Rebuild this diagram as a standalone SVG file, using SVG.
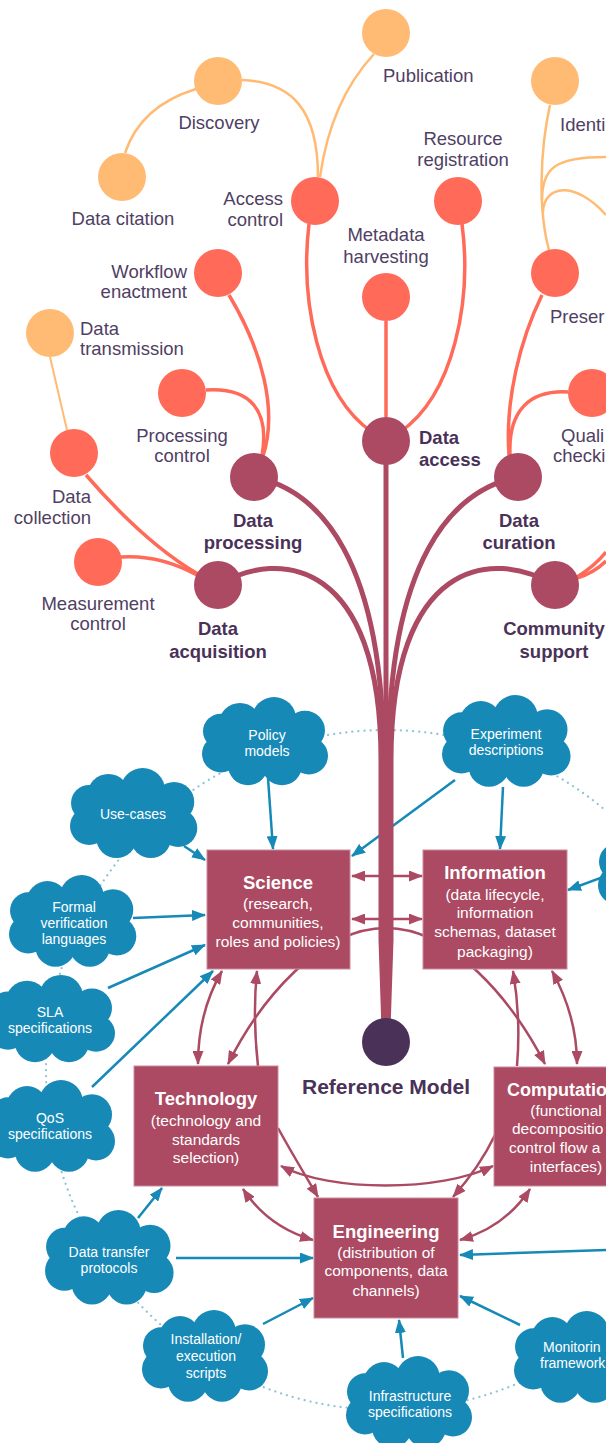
<svg xmlns="http://www.w3.org/2000/svg" xmlns:xlink="http://www.w3.org/1999/xlink" width="606" height="1443" viewBox="0 0 606 1443">
<style>
  text{font-family:"Liberation Sans",Arial,sans-serif}
  .lb{font-size:18.5px;fill:#4f4064}
  .bl{font-size:18.5px;font-weight:bold;fill:#4a3158}
  .bt{font-size:18.5px;font-weight:bold;fill:#fff}
  .bs{font-size:15.5px;fill:#fff}
  .ct{font-size:14px;fill:#fff}
  .or{fill:#ffbb73}
  .co{fill:#ff6a59}
  .ma{fill:#ab4a62}
  .box{fill:#ab4a62;stroke:#c98b9b;stroke-width:1}
  .cl{fill:#1689b7}
  .lo{fill:none;stroke:#ffbb73;stroke-width:2.5}
  .lc{fill:none;stroke:#ff6a59;stroke-width:3.5}
  .lm{fill:none;stroke:#ab4a62;stroke-width:5}
  .am{fill:none;stroke:#ab4a62;stroke-width:2.5;marker-end:url(#hm)}
  .ad{fill:none;stroke:#ab4a62;stroke-width:2.5;marker-end:url(#hm);marker-start:url(#hm)}
  .ab{fill:none;stroke:#1689b7;stroke-width:2.5;marker-end:url(#hb)}
</style>
<defs>
  <marker id="hm" viewBox="0 0 14 11" refX="13" refY="5.5" markerWidth="14" markerHeight="11" markerUnits="userSpaceOnUse" orient="auto-start-reverse">
    <path d="M0,0 L14,5.5 L0,11 z" fill="#ab4a62"/>
  </marker>
  <marker id="hb" viewBox="0 0 14 11" refX="13" refY="5.5" markerWidth="14" markerHeight="11" markerUnits="userSpaceOnUse" orient="auto">
    <path d="M0,0 L14,5.5 L0,11 z" fill="#1689b7"/>
  </marker>
  <g id="cloud">
    <ellipse cx="65" cy="46" rx="48" ry="30"/>
    <circle cx="40" cy="27" r="21"/>
    <circle cx="74" cy="22" r="22"/>
    <circle cx="105" cy="34" r="20"/>
    <circle cx="109" cy="60" r="19"/>
    <circle cx="82" cy="70" r="20"/>
    <circle cx="48" cy="70" r="20"/>
    <circle cx="21" cy="58" r="19"/>
    <circle cx="21" cy="35" r="18"/>
  </g>
</defs>

<g id="ring">
  <circle cx="386" cy="1070" r="340" fill="none" stroke="#8ec3d8" stroke-width="2.2" stroke-linecap="round" stroke-dasharray="0.1 6"/>
</g>

<g id="connectors">
  <path class="ad" d="M352,876 L422,876"/>
  <path class="ad" d="M352,919 L422,919"/>
  <path class="ad" d="M228,1064 C260,1000 320,928 386,928 C452,928 512,1000 545,1064"/>
  <path class="am" d="M258,1066 C254,1030 254,1000 257,971"/>
  <path class="ad" d="M222,971 C205,1000 198,1030 198,1064"/>
  <path class="am" d="M517,1066 C520,1030 518,1000 513,971"/>
  <path class="ad" d="M552,971 C568,1000 577,1030 577,1064"/>
  <path class="ad" d="M281,1166 C330,1192 440,1192 493,1166"/>
  <path class="am" d="M278,1128 C290,1150 305,1175 318,1197"/>
  <path class="am" d="M495,1135 C483,1160 468,1180 453,1197"/>
  <path class="ad" d="M243,1189 C260,1215 285,1232 313,1240"/>
  <path class="ad" d="M530,1189 C513,1215 488,1232 460,1240"/>
  <path class="ab" d="M268,778 L273,849"/>
  <path class="ab" d="M184,846 L205,860"/>
  <path class="ab" d="M133,918 L205,915"/>
  <path class="ab" d="M108,988 L205,945"/>
  <path class="ab" d="M92,1087 L213,971"/>
  <path class="ab" d="M455,780 L352,856"/>
  <path class="ab" d="M503,787 L500,849"/>
  <path class="ab" d="M606,876 L568,890"/>
  <path class="ab" d="M138,1218 L162,1188"/>
  <path class="ab" d="M176,1258 L313,1258"/>
  <path class="ab" d="M263,1324 L313,1298"/>
  <path class="ab" d="M403,1358 L399,1320"/>
  <path class="ab" d="M520,1325 L460,1296"/>
  <path class="ab" d="M606,1250 L460,1255"/>
  <path class="lm" d="M386,441 L386,940 L386,1030"/>
  <path class="lm" d="M254,477 C320,490 383.5,560 383.5,760 L383.5,940 L385,1030"/>
  <path class="lm" d="M218,585 C280,548 381,560 381,760 L381,940 L384,1030"/>
  <path class="lm" d="M518,477 C452,490 388.5,560 388.5,760 L388.5,940 L387,1030"/>
  <path class="lm" d="M554,585 C492,548 391,560 391,760 L391,940 L388,1030"/>
  <path class="lc" d="M309,224 C300,300 318,395 372,432"/>
  <path class="lc" d="M462,224 C472,300 454,395 400,432"/>
  <path class="lc" d="M386,321 L386,417"/>
  <path class="lc" d="M229,295 C262,350 278,410 263,456"/>
  <path class="lc" d="M206,390 C250,387 270,410 262,456"/>
  <path class="lc" d="M86,475 C125,520 165,555 198,574"/>
  <path class="lc" d="M121,557 C150,555 175,563 197,575"/>
  <path class="lc" d="M542,295 C520,340 505,400 509,455"/>
  <path class="lc" d="M568,392 C530,390 508,410 510,455"/>
  <path class="lc" d="M577,577 C588,570 598,562 606,552"/>
  <path class="lc" d="M577,578 C590,574 599,568 606,561"/>
  <path class="lo" d="M318,177 C318,110 292,82 242,80"/>
  <path class="lo" d="M320,177 C328,120 348,82 374,54"/>
  <path class="lo" d="M196,89 C160,100 136,120 125,153"/>
  <path class="lo" d="M50,357 L67,430" style="stroke-width:2"/>
  <path class="lo" d="M549,250 C538,210 540,150 550,105"/>
  <path class="lo" d="M542,200 C542,168 555,157 606,157"/>
  <path class="lo" d="M543,212 C544,185 575,180 606,215"/>
</g>

<g id="publication"><circle class="or" cx="386" cy="33" r="24"/><text class="lb" x="383" y="82">Publication</text></g>
<g id="discovery"><circle class="or" cx="218" cy="81" r="24"/><text class="lb" x="219" y="129" text-anchor="middle">Discovery</text></g>
<g id="data-citation"><circle class="or" cx="122" cy="177" r="24"/><text class="lb" x="123" y="225" text-anchor="middle">Data citation</text></g>
<g id="identification"><circle class="or" cx="555" cy="81" r="24"/><text class="lb" x="560" y="131">Identi</text></g>
<g id="data-transmission"><circle class="or" cx="50" cy="333" r="24"/><text class="lb" x="80" y="335">Data</text><text class="lb" x="80" y="355">transmission</text></g>

<g id="access-control"><circle class="co" cx="315" cy="201" r="24"/><text class="lb" x="283" y="205" text-anchor="end">Access</text><text class="lb" x="283" y="226" text-anchor="end">control</text></g>
<g id="resource-registration"><circle class="co" cx="458" cy="201" r="24"/><text class="lb" x="463" y="145" text-anchor="middle">Resource</text><text class="lb" x="463" y="166" text-anchor="middle">registration</text></g>
<g id="metadata-harvesting"><circle class="co" cx="386" cy="297" r="24"/><text class="lb" x="386" y="241" text-anchor="middle">Metadata</text><text class="lb" x="386" y="263" text-anchor="middle">harvesting</text></g>
<g id="workflow-enactment"><circle class="co" cx="218" cy="273" r="24"/><text class="lb" x="187" y="278" text-anchor="end">Workflow</text><text class="lb" x="187" y="298" text-anchor="end">enactment</text></g>
<g id="preservation"><circle class="co" cx="555" cy="273" r="24"/><text class="lb" x="550" y="323">Preser</text></g>
<g id="processing-control"><circle class="co" cx="182" cy="393" r="24"/><text class="lb" x="182" y="442" text-anchor="middle">Processing</text><text class="lb" x="182" y="462" text-anchor="middle">control</text></g>
<g id="quality-checking"><circle class="co" cx="592" cy="393" r="24"/><text class="lb" x="561" y="442">Quali</text><text class="lb" x="553" y="462">checki</text></g>
<g id="data-collection"><circle class="co" cx="74" cy="453" r="24"/><text class="lb" x="91" y="503" text-anchor="end">Data</text><text class="lb" x="91" y="524" text-anchor="end">collection</text></g>
<g id="measurement-control"><circle class="co" cx="98" cy="562" r="24"/><text class="lb" x="98" y="610" text-anchor="middle">Measurement</text><text class="lb" x="98" y="630" text-anchor="middle">control</text></g>

<g id="data-access"><circle class="ma" cx="386" cy="441" r="24"/><text class="bl" x="419" y="444">Data</text><text class="bl" x="419" y="466">access</text></g>
<g id="data-processing"><circle class="ma" cx="254" cy="477" r="24"/><text class="bl" x="253" y="527" text-anchor="middle">Data</text><text class="bl" x="253" y="549" text-anchor="middle">processing</text></g>
<g id="data-curation"><circle class="ma" cx="518" cy="477" r="24"/><text class="bl" x="519" y="527" text-anchor="middle">Data</text><text class="bl" x="519" y="549" text-anchor="middle">curation</text></g>
<g id="data-acquisition"><circle class="ma" cx="218" cy="585" r="24"/><text class="bl" x="218" y="635" text-anchor="middle">Data</text><text class="bl" x="218" y="658" text-anchor="middle">acquisition</text></g>
<g id="community-support"><circle class="ma" cx="555" cy="585" r="24"/><text class="bl" x="554" y="635" text-anchor="middle">Community</text><text class="bl" x="554" y="658" text-anchor="middle">support</text></g>

<g id="reference-model"><circle cx="386" cy="1042" r="24" fill="#4a3158"/><text x="386" y="1094" text-anchor="middle" style="font-size:21px;font-weight:bold;fill:#4a3158">Reference Model</text></g>

<g id="science"><rect class="box" x="207" y="850" width="143" height="119"/>
  <text class="bt" x="278" y="889" text-anchor="middle">Science</text>
  <text class="bs" x="278" y="908.5" text-anchor="middle">(research,</text>
  <text class="bs" x="278" y="927.5" text-anchor="middle">communities,</text>
  <text class="bs" x="278" y="946.5" text-anchor="middle">roles and policies)</text></g>
<g id="information"><rect class="box" x="423" y="850" width="144" height="119"/>
  <text class="bt" x="495" y="879" text-anchor="middle">Information</text>
  <text class="bs" x="495" y="899.5" text-anchor="middle">(data lifecycle,</text>
  <text class="bs" x="495" y="918" text-anchor="middle">information</text>
  <text class="bs" x="495" y="937" text-anchor="middle">schemas, dataset</text>
  <text class="bs" x="495" y="956.5" text-anchor="middle">packaging)</text></g>
<g id="technology"><rect class="box" x="134" y="1066" width="144" height="120"/>
  <text class="bt" x="206" y="1105" text-anchor="middle">Technology</text>
  <text class="bs" x="206" y="1125.5" text-anchor="middle">(technology and</text>
  <text class="bs" x="206" y="1144.5" text-anchor="middle">standards</text>
  <text class="bs" x="206" y="1163" text-anchor="middle">selection)</text></g>
<g id="computation"><rect class="box" x="494" y="1067" width="144" height="119"/>
  <text class="bt" x="507" y="1096" style="font-size:18px">Computatio</text>
  <text class="bs" x="566" y="1115.5" text-anchor="middle">(functional</text>
  <text class="bs" x="512" y="1134">decompositio</text>
  <text class="bs" x="509" y="1153">control flow a</text>
  <text class="bs" x="566" y="1172" text-anchor="middle">interfaces)</text></g>
<g id="engineering"><rect class="box" x="314" y="1198" width="144" height="120"/>
  <text class="bt" x="386" y="1238" text-anchor="middle">Engineering</text>
  <text class="bs" x="386" y="1257.5" text-anchor="middle">(distribution of</text>
  <text class="bs" x="386" y="1276" text-anchor="middle">components, data</text>
  <text class="bs" x="386" y="1295.5" text-anchor="middle">channels)</text></g>

<g id="policy-models"><use href="#cloud" class="cl" transform="translate(200,697) scale(1,0.98)"/><text class="ct" x="267" y="740" text-anchor="middle">Policy</text><text class="ct" x="267" y="756" text-anchor="middle">models</text></g>
<g id="experiment-descriptions"><use href="#cloud" class="cl" transform="translate(440,695) scale(1.02,1.02)"/><text class="ct" x="506" y="739" text-anchor="middle">Experiment</text><text class="ct" x="506" y="755" text-anchor="middle">descriptions</text></g>
<g id="use-cases"><use href="#cloud" class="cl" transform="translate(68,768) scale(1.01,1)"/><text class="ct" x="133" y="819" text-anchor="middle">Use-cases</text></g>
<g id="formal-verification"><use href="#cloud" class="cl" transform="translate(7,875) scale(1.01,1.02)"/><text class="ct" x="74" y="912" text-anchor="middle">Formal</text><text class="ct" x="74" y="928" text-anchor="middle">verification</text><text class="ct" x="74" y="944" text-anchor="middle">languages</text></g>
<g id="sla-specifications"><use href="#cloud" class="cl" transform="translate(-13,975) scale(1,0.97)"/><text class="ct" x="50" y="1017" text-anchor="middle">SLA</text><text class="ct" x="50" y="1033" text-anchor="middle">specifications</text></g>
<g id="qos-specifications"><use href="#cloud" class="cl" transform="translate(-13,1080) scale(1,1.02)"/><text class="ct" x="50" y="1123" text-anchor="middle">QoS</text><text class="ct" x="50" y="1139" text-anchor="middle">specifications</text></g>
<g id="data-transfer-protocols"><use href="#cloud" class="cl" transform="translate(43,1210) scale(1.02,1.05)"/><text class="ct" x="109" y="1257" text-anchor="middle">Data transfer</text><text class="ct" x="109" y="1273" text-anchor="middle">protocols</text></g>
<g id="installation-scripts"><use href="#cloud" class="cl" transform="translate(140,1310) scale(1,1.02)"/><text class="ct" x="206" y="1344" text-anchor="middle">Installation/</text><text class="ct" x="206" y="1361" text-anchor="middle">execution</text><text class="ct" x="206" y="1378" text-anchor="middle">scripts</text></g>
<g id="infrastructure-specifications"><use href="#cloud" class="cl" transform="translate(344,1356) scale(1,1.02)"/><text class="ct" x="410" y="1401" text-anchor="middle">Infrastructure</text><text class="ct" x="410" y="1417" text-anchor="middle">specifications</text></g>
<g id="monitoring-framework"><use href="#cloud" class="cl" transform="translate(512,1311) scale(1.01,1.02)"/><text class="ct" x="543" y="1352">Monitorin</text><text class="ct" x="540" y="1368">framework</text></g>
<g id="right-cloud"><use href="#cloud" class="cl" transform="translate(596,826) scale(1,1.02)"/></g>
</svg>
